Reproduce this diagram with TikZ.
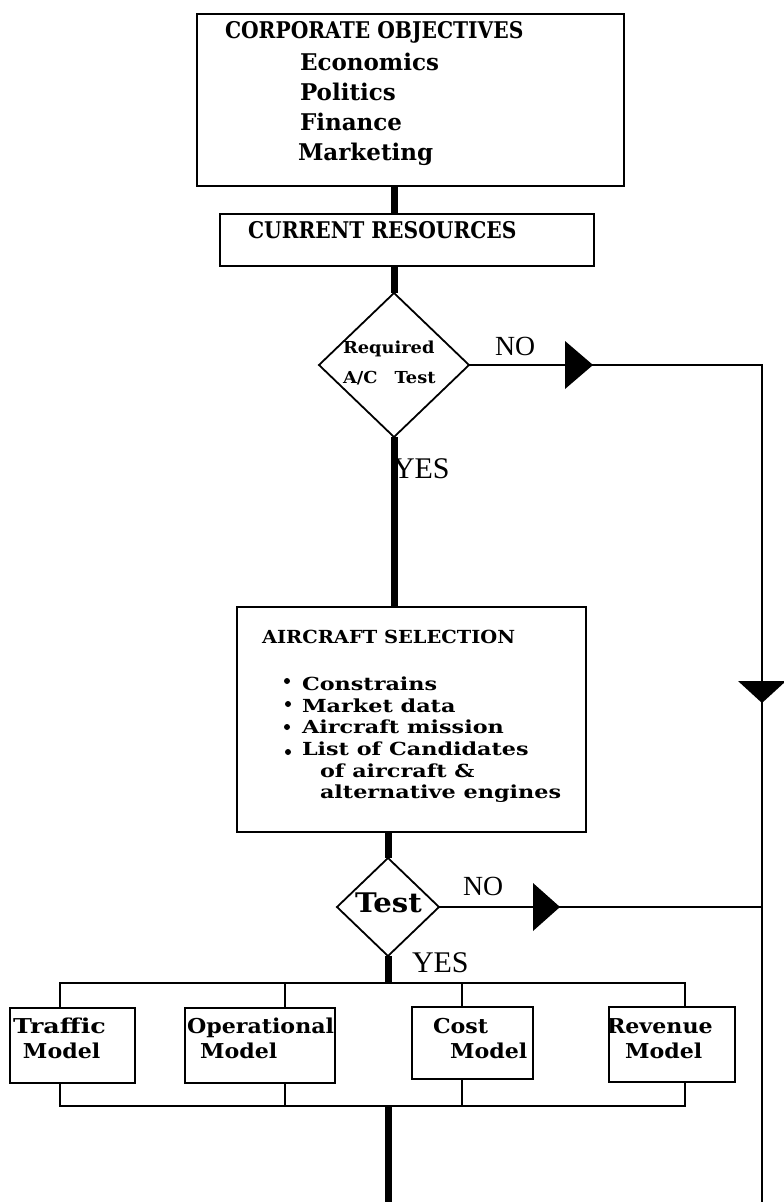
\documentclass[tikz,border=0pt]{standalone}
\usepackage{fontspec}
\usetikzlibrary{shapes.geometric}
\newfontfamily\slabA[FakeStretch=0.88]{DejaVu Serif}
\newfontfamily\slabB{DejaVu Serif}
\newfontfamily\slabC[FakeStretch=1.08]{DejaVu Serif}
\newfontfamily\slabD[FakeStretch=1.24]{DejaVu Serif}
\newfontfamily\tms{Liberation Serif}
\begin{document}
\begin{tikzpicture}[x=1pt,y=-1pt,
  frame/.style={draw, line width=1.8pt, inner sep=0pt, outer sep=0pt, rectangle},
  decision/.style={draw, line width=1.8pt, inner sep=0pt, outer sep=0pt, diamond},
  heavy/.style={line width=7pt},
  thin/.style={line width=1.8pt},
  txt/.style={inner sep=0pt, outer sep=0pt, anchor=base west},
  caps/.style={txt, font=\slabA\bfseries\fontsize{23}{23}\selectfont},
  lower/.style={txt, font=\slabB\bfseries\fontsize{23}{23}\selectfont},
  small/.style={txt, font=\slabC\bfseries\fontsize{16.5}{16.5}\selectfont},
  mid/.style={txt, font=\slabC\bfseries\fontsize{18}{18}\selectfont},
  item/.style={txt, font=\slabD\bfseries\fontsize{18}{18}\selectfont},
  model/.style={txt, font=\slabC\bfseries\fontsize{20.5}{20.5}\selectfont},
  modelwide/.style={txt, font=\slabD\bfseries\fontsize{20.5}{20.5}\selectfont},
  testfont/.style={txt, font=\slabC\bfseries\fontsize{27}{27}\selectfont},
  answer/.style={txt, font=\tms\fontsize{27.7}{27.7}\selectfont},
  answerwide/.style={txt, font=\tms\fontsize{30}{30}\selectfont},
  marker/.style={fill=black},
]
\useasboundingbox (0,0) rectangle (784,1202);

% boxes and decisions
\node[frame, minimum width=427pt, minimum height=172pt] (obj) at (410.5,100) {};
\node[frame, minimum width=374pt, minimum height=52pt] (res) at (407,240) {};
\node[decision, minimum width=150pt, minimum height=144pt] (d1) at (394,365) {};
\node[frame, minimum width=349pt, minimum height=225pt] (sel) at (411.5,719.5) {};
\node[decision, minimum width=102pt, minimum height=98pt] (d2) at (388,907) {};
\node[frame, minimum width=125pt, minimum height=75pt] (traffic) at (72.5,1045.5) {};
\node[frame, minimum width=150pt, minimum height=75pt] (oper) at (260,1045.5) {};
\node[frame, minimum width=121pt, minimum height=72pt] (cost) at (472.5,1043) {};
\node[frame, minimum width=126pt, minimum height=75pt] (rev) at (672,1044.5) {};

% texts
\node[caps] (t1) at (225,38) {CORPORATE OBJECTIVES};
\node[lower] (t2) at (300,70) {Economics};
\node[lower] (t3) at (300,100) {Politics};
\node[lower] (t4) at (300,130) {Finance};
\node[lower] (t5) at (298,160) {Marketing};
\node[caps] (t6) at (248,238) {CURRENT RESOURCES};
\node[small] (t7) at (343,353) {Required};
\node[small] (t8) at (343,383) {A/C\hspace{11pt} Test};
\node[mid] (t9) at (262,643) {AIRCRAFT SELECTION};
\node[item] (b1) at (302,690) {Constrains};
\node[item] (b2) at (302,712) {Market data};
\node[item] (b3) at (302,733) {Aircraft mission};
\node[item] (b4) at (302,755) {List of Candidates};
\node[item] (b5) at (320,777) {of aircraft \&};
\node[item] (b6) at (320,798) {alternative engines};
\node[testfont] (t10) at (355,912) {Test};
\node[modelwide] (m1) at (13,1033) {Traffic};
\node[model] (m2) at (23,1058) {Model};
\node[model] (m3) at (187,1033) {Operational};
\node[model] (m4) at (200,1058) {Model};
\node[model] (m5) at (433,1033) {Cost};
\node[model] (m6) at (450,1058) {Model};
\node[model] (m7) at (607,1033) {Revenue};
\node[model] (m8) at (625,1058) {Model};
\node[answer] (no1) at (495,355) {NO};
\node[answerwide] (yes1) at (393,478) {YES};
\node[answer] (no2) at (463,895) {NO};
\node[answerwide] (yes2) at (412,972) {YES};

% bullets
\fill (287,681) circle (3);
\fill (288,704) circle (3);
\fill (287,727) circle (3);
\fill (288,752) circle (3);

% main spine
\draw[heavy] (d1.north |- obj.south) -- (d1.north |- res.north);
\draw[heavy] (d1.north |- res.south) -- (d1.north);
\draw[heavy] (d1.south) -- (d1.south |- sel.north);
\draw[heavy] (d2.north |- sel.south) -- (d2.north);

% model buses
\coordinate (tl) at (60,983);
\coordinate (to) at (285,983);
\coordinate (tc) at (462,983);
\coordinate (tr) at (685,983);
\coordinate (bl) at (60,1106);
\coordinate (bo) at (285,1106);
\coordinate (bc) at (462,1106);
\coordinate (br) at (685,1106);
\coordinate (out) at (388,1202);
\draw[heavy] (d2.south) -- (d2.south |- tl);
\draw[thin] (tl |- traffic.north) -- (tl) -- (tr) -- (tr |- rev.north);
\draw[thin] (to) -- (to |- oper.north);
\draw[thin] (tc) -- (tc |- cost.north);
\draw[thin] (bl |- traffic.south) -- (bl) -- (br) -- (br |- rev.south);
\draw[thin] (bo) -- (bo |- oper.south);
\draw[thin] (bc) -- (bc |- cost.south);
\draw[heavy] (out |- bl) -- (out);

% NO branches and return line
\coordinate (c1) at (762,365);
\coordinate (c2) at (762,1202);
\draw[thin] (d1.east) -- (c1) -- (c2);
\draw[thin] (d2.east) -- (d2.east -| c1);
\fill[marker] (565,341) -- (593,365) -- (565,389) -- cycle;
\fill[marker] (533,883) -- (560,907) -- (533,931) -- cycle;
\fill[marker] (738,681) -- (762,703) -- (786,681) -- cycle;
\end{tikzpicture}
\end{document}
